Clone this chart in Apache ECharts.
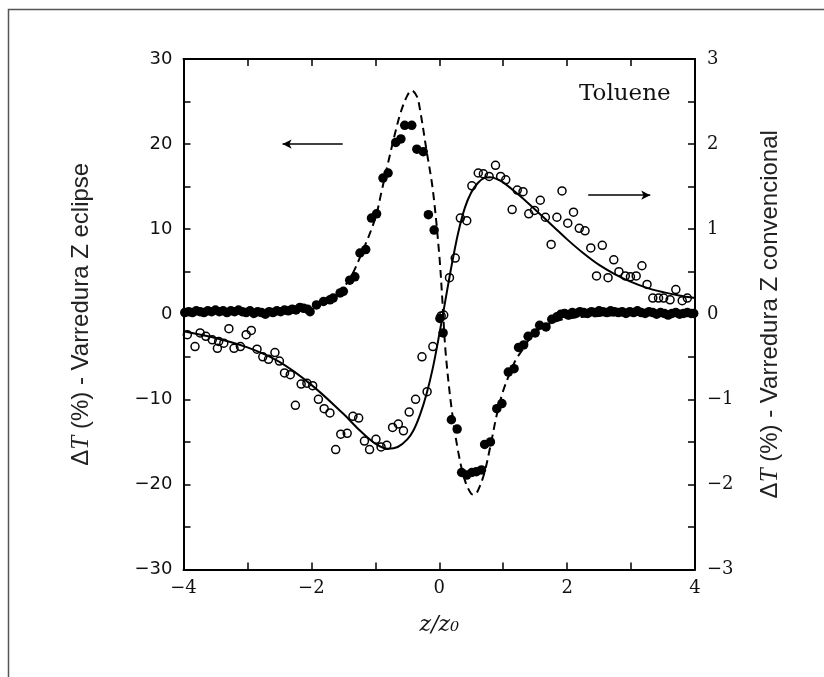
<!DOCTYPE html>
<html>
<head>
<meta charset="utf-8">
<script src="https://cdn.jsdelivr.net/npm/echarts@6/dist/echarts.min.js"></script>
<style>
html,body{margin:0;padding:0;background:#fff;}
#chart{width:824px;height:677px;}
</style>
</head>
<body>
<div id="chart"></div>
<script>
// ---- Data ----
// Eclipse Z-scan measured points (left axis, ΔT %)
const eclipseZ = [-3.98,-3.92,-3.86,-3.80,-3.74,-3.68,-3.62,-3.56,-3.50,-3.44,-3.38,-3.32,-3.26,-3.20,-3.14,-3.08,-3.02,-2.96,-2.90,-2.84,-2.78,-2.72,-2.66,-2.60,-2.54,-2.48,-2.42,-2.36,-2.30,-2.24,-2.18,-2.12,-2.06,
  -2.02,-1.92,-1.81,-1.71,-1.66,-1.55,-1.50,-1.40,-1.32,-1.24,-1.15,-1.06,-0.98,-0.88,-0.80,-0.68,-0.60,-0.54,-0.43,-0.35,-0.25,-0.17,-0.08,
  0.01,0.06,0.19,0.28,0.35,0.43,0.51,0.58,0.66,0.71,0.80,0.90,0.98,1.08,1.17,1.24,1.32,1.39,1.50,1.57,1.67,1.76,1.84,
  1.90,1.96,2.02,2.08,2.14,2.20,2.26,2.32,2.38,2.44,2.50,2.56,2.62,2.68,2.74,2.80,2.86,2.92,2.98,3.04,3.10,3.16,3.22,3.28,3.34,3.40,3.46,3.52,3.58,3.64,3.70,3.76,3.82,3.88,3.94,3.98];
const eclipseV = [0.2,0.3,0.2,0.4,0.3,0.2,0.4,0.3,0.5,0.3,0.4,0.2,0.4,0.3,0.5,0.3,0.2,0.4,0.1,0.3,0.2,0.0,0.3,0.2,0.4,0.3,0.5,0.4,0.6,0.5,0.8,0.7,0.6,
  0.3,1.1,1.5,1.7,1.9,2.5,2.7,4.0,4.4,7.2,7.6,11.3,11.8,16.0,16.6,20.2,20.6,22.2,22.2,19.4,19.1,11.7,9.9,
  -0.5,-2.2,-12.4,-13.5,-18.6,-18.9,-18.6,-18.5,-18.3,-15.3,-15.0,-11.1,-10.5,-6.8,-6.4,-3.9,-3.6,-2.6,-2.2,-1.3,-1.5,-0.6,-0.3,
  0.0,0.1,-0.1,0.2,0.1,0.3,0.2,0.1,0.3,0.2,0.4,0.3,0.2,0.4,0.3,0.2,0.3,0.1,0.3,0.2,0.4,0.2,0.1,0.3,0.2,0.0,0.2,0.1,-0.1,0.1,0.2,0.0,0.1,0.2,0.1,0.1];

// Eclipse theoretical fit (dashed, left axis)
const eclipseFitZ = [-4,-3.5,-3,-2.5,-2.2,-2.0,-1.8,-1.6,-1.5,-1.4,-1.2,-1.0,-0.9,-0.8,-0.7,-0.6,-0.5,-0.43,-0.35,-0.3,-0.2,-0.1,0,0.05,0.1,0.2,0.3,0.4,0.5,0.55,0.6,0.7,0.8,0.9,1.0,1.1,1.2,1.3,1.4,1.5,1.6,1.8,2.0,2.5,3.0,3.5,4.0];
const eclipseFitV = [0.1,0.15,0.25,0.45,0.75,1.1,1.6,2.5,3.2,4.1,7.4,11.3,14.5,17.8,21.0,23.8,25.7,26.3,25.6,24.0,19.3,14.6,7.0,1.5,-4.5,-11.5,-16.3,-19.5,-21.1,-21.2,-20.8,-18.8,-15.5,-11.8,-9.0,-7.0,-5.3,-4.2,-3.0,-2.2,-1.6,-0.9,-0.5,-0.2,-0.1,-0.05,0];

// Conventional Z-scan measured points (right axis, ΔT %)
const convZ = [-3.94,-3.82,-3.74,-3.65,-3.55,-3.47,-3.45,-3.37,-3.29,-3.21,-3.11,-3.02,-2.94,-2.85,-2.76,-2.67,-2.57,-2.50,-2.42,-2.33,-2.25,-2.16,-2.07,-1.98,-1.89,-1.80,-1.71,-1.62,-1.54,-1.44,-1.35,-1.26,-1.17,-1.09,-0.99,-0.91,-0.82,-0.73,-0.64,-0.56,-0.47,-0.37,-0.27,-0.19,-0.10,
  0.03,0.07,0.16,0.25,0.33,0.43,0.51,0.61,0.69,0.78,0.88,0.96,1.04,1.14,1.22,1.31,1.40,1.49,1.58,1.66,1.75,1.84,1.92,2.01,2.10,2.19,2.28,2.37,2.46,2.55,2.64,2.73,2.81,2.91,2.99,3.08,3.17,3.25,3.34,3.43,3.51,3.61,3.70,3.80,3.88];
const convV = [-0.24,-0.38,-0.22,-0.26,-0.30,-0.40,-0.32,-0.34,-0.17,-0.40,-0.38,-0.24,-0.19,-0.41,-0.50,-0.53,-0.45,-0.55,-0.69,-0.71,-1.07,-0.82,-0.81,-0.84,-1.00,-1.11,-1.16,-1.59,-1.41,-1.40,-1.20,-1.22,-1.49,-1.59,-1.47,-1.56,-1.54,-1.33,-1.29,-1.37,-1.15,-1.00,-0.50,-0.91,-0.38,
  -0.02,-0.01,0.43,0.66,1.13,1.10,1.51,1.66,1.65,1.62,1.75,1.62,1.58,1.23,1.46,1.44,1.18,1.22,1.34,1.14,0.82,1.14,1.45,1.07,1.20,1.01,0.98,0.78,0.45,0.81,0.43,0.64,0.50,0.45,0.44,0.45,0.57,0.35,0.19,0.19,0.19,0.17,0.29,0.16,0.19];

// Conventional theoretical fit (solid, right axis)
const convFitZ = [-4,-3.5,-3,-2.5,-2,-1.5,-1.25,-1,-0.8,-0.65,-0.5,-0.4,-0.3,-0.2,-0.1,0,0.1,0.2,0.3,0.4,0.5,0.6,0.7,0.8,0.9,1.0,1.2,1.4,1.6,1.8,2.0,2.25,2.5,2.75,3.0,3.25,3.5,3.75,4.0];
const convFitV = [-0.20,-0.28,-0.39,-0.56,-0.83,-1.17,-1.36,-1.52,-1.58,-1.56,-1.47,-1.36,-1.18,-0.94,-0.63,-0.24,0.18,0.6,0.97,1.25,1.43,1.54,1.6,1.61,1.59,1.55,1.43,1.30,1.16,1.02,0.88,0.72,0.58,0.47,0.38,0.31,0.26,0.22,0.19];

// Arrows (data coordinates): left arrow points to left axis, right arrow to right axis
const leftArrow = [[-1.51, 20.0], [-2.45, 20.0]];
const rightArrow = [[2.33, 1.40], [3.30, 1.40]];

// Axis ranges / tick steps
const xRange = [-4, 4], xStep = 1;
const yLeftRange = [-30, 30], yLeftStep = 5;
const yRightRange = [-3, 3], yRightStep = 0.5;

// ---- Chart ----
const zip = (a, b) => a.map((v, i) => [v, b[i]]);
const minus = v => String(v).replace('-', '\u2212');

const chart = echarts.init(document.getElementById('chart'), null, {renderer: 'canvas'});

const axisCommon = {
  axisLine: {show: true, onZero: false, lineStyle: {color: '#000', width: 2}},
  axisTick: {show: true, inside: true, length: 7, lineStyle: {color: '#000', width: 1.5}},
  splitLine: {show: false}
};
const titleRich = {
  a: {fontFamily: 'Liberation Sans', fontSize: 24, color: '#222'},
  b: {fontFamily: 'Liberation Serif', fontStyle: 'italic', fontSize: 25, color: '#222'}
};

chart.setOption({
  animation: false,
  backgroundColor: '#fff',
  grid: {left: 183.5, right: 129, top: 59, bottom: 107.5, show: false},
  graphic: [
    {type: 'rect', shape: {x: 8.5, y: 9.5, width: 900, height: 900}, style: {fill: 'none', stroke: '#555', lineWidth: 1.5}, silent: true},
    {type: 'text', left: 579, top: 83, style: {text: 'Toluene', font: '23px "DejaVu Serif"', fill: '#111'}, silent: true}
  ],
  xAxis: [
    Object.assign({}, axisCommon, {
      type: 'value', min: xRange[0], max: xRange[1], interval: xStep, position: 'bottom',
      axisLabel: {margin: 10, color: '#111', fontFamily: 'DejaVu Serif', fontSize: 18,
        formatter: v => (Math.round(v) % 2 === 0 ? minus(v) : '')},
      name: 'z/z\u2080', nameLocation: 'middle', nameGap: 45,
      nameTextStyle: {fontFamily: 'DejaVu Serif', fontStyle: 'italic', fontSize: 22, color: '#111'}
    }),
    Object.assign({}, axisCommon, {
      type: 'value', min: xRange[0], max: xRange[1], interval: xStep, position: 'top',
      axisLabel: {show: false}
    })
  ],
  yAxis: [
    Object.assign({}, axisCommon, {
      type: 'value', min: yLeftRange[0], max: yLeftRange[1], interval: yLeftStep, position: 'left',
      axisLabel: {margin: 11, color: '#111', fontFamily: 'DejaVu Sans', fontSize: 18,
        formatter: v => (v % 10 === 0 ? minus(v) : '')},
      name: '{a|\u0394}{b|T}{a| (%) - Varredura Z eclipse}', nameLocation: 'middle', nameRotate: 90, nameGap: 90,
      nameTextStyle: {rich: titleRich}
    }),
    Object.assign({}, axisCommon, {
      type: 'value', min: yRightRange[0], max: yRightRange[1], interval: yRightStep, position: 'right',
      axisLabel: {margin: 12, color: '#111', fontFamily: 'DejaVu Serif', fontSize: 18,
        formatter: v => (Number.isInteger(v) ? minus(v) : '')},
      name: '{a|\u0394}{b|T}{a| (%) - Varredura Z convencional}', nameLocation: 'middle', nameRotate: 90, nameGap: 63,
      nameTextStyle: {rich: titleRich}
    })
  ],
  series: [
    {
      type: 'line', name: 'eclipse fit', xAxisIndex: 0, yAxisIndex: 0,
      data: zip(eclipseFitZ, eclipseFitV), smooth: 0.35, showSymbol: false, symbol: 'none',
      lineStyle: {color: '#000', width: 2, type: [8, 5]}, z: 2
    },
    {
      type: 'line', name: 'conventional fit', xAxisIndex: 0, yAxisIndex: 1,
      data: zip(convFitZ, convFitV), smooth: 0.35, showSymbol: false, symbol: 'none',
      lineStyle: {color: '#000', width: 2}, z: 2
    },
    {
      type: 'scatter', name: 'eclipse', xAxisIndex: 0, yAxisIndex: 0,
      data: zip(eclipseZ, eclipseV), symbol: 'circle', symbolSize: 9.5,
      itemStyle: {color: '#000', opacity: 1}, z: 3,
      markLine: {
        silent: true, symbol: ['none', 'arrow'], symbolSize: [7, 9],
        label: {show: false}, lineStyle: {color: '#000', width: 1.5, type: 'solid'},
        data: [[{coord: leftArrow[0]}, {coord: leftArrow[1]}]]
      }
    },
    {
      type: 'scatter', name: 'conventional', xAxisIndex: 0, yAxisIndex: 1,
      data: zip(convZ, convV), symbol: 'circle', symbolSize: 8,
      itemStyle: {color: 'rgba(255,255,255,0)', borderColor: '#000', borderWidth: 1.5, opacity: 1}, z: 4,
      markLine: {
        silent: true, symbol: ['none', 'arrow'], symbolSize: [7, 9],
        label: {show: false}, lineStyle: {color: '#000', width: 1.5, type: 'solid'},
        data: [[{coord: rightArrow[0]}, {coord: rightArrow[1]}]]
      }
    }
  ]
});
</script>
</body>
</html>
